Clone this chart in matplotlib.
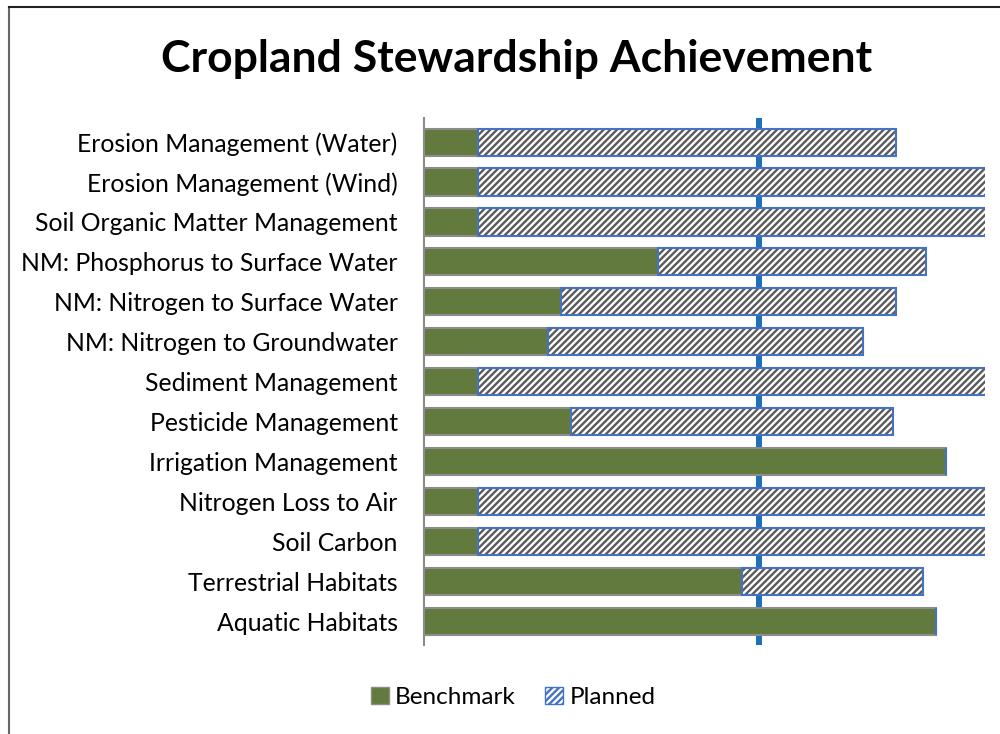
import numpy as np
import matplotlib.pyplot as plt
from matplotlib.patches import Patch
from matplotlib.lines import Line2D

categories = ['Erosion Management (Water)', 'Erosion Management (Wind)',
              'Soil Organic Matter Management', 'NM: Phosphorus to Surface Water',
              'NM: Nitrogen to Surface Water', 'NM: Nitrogen to Groundwater',
              'Sediment Management', 'Pesticide Management', 'Irrigation Management',
              'Nitrogen Loss to Air', 'Soil Carbon', 'Terrestrial Habitats',
              'Aquatic Habitats']
benchmark = [16, 16, 16, 70, 41, 37, 16, 44, 156, 16, 16, 95, 153]
planned = [125, 184, 184, 80, 100, 94, 184, 96, 0, 184, 184, 54, 0]
target = 100

plt.rcParams['font.family'] = ['Lato', 'DejaVu Sans']
plt.rcParams['hatch.linewidth'] = 1.7

fig = plt.figure(figsize=(10, 7.34), dpi=100)
ax = fig.add_axes([0.424, 0.121, 0.561, 0.718])

y = np.arange(len(categories))
green = '#627A3E'
ax.barh(y, benchmark, height=0.68, color=green, edgecolor='#8c8c8c', linewidth=1.5, zorder=2)
ax.barh(y, planned, left=benchmark, height=0.68, color='white', edgecolor='#5a5a5a',
        hatch='/////', linewidth=0, zorder=2)
ax.barh(y, planned, left=benchmark, height=0.68, fill=False, edgecolor='#4472C4',
        linewidth=1.5, zorder=3)
ax.axvline(target, color='#1F6FBA', linewidth=4.3, zorder=1)

ax.set_xlim(0, 167.5)
ax.set_ylim(len(categories) - 0.5 + 0.1, -0.6)
ax.set_yticks(y)
ax.set_yticklabels(categories, fontsize=17.8)
ax.tick_params(axis='y', length=0, pad=19)
ax.set_xticks([])
for s in ['top', 'right', 'bottom']:
    ax.spines[s].set_visible(False)
ax.spines['left'].set_color('#8c8c8c')
ax.spines['left'].set_linewidth(1.5)

fig.text(0.517, 0.919, 'Cropland Stewardship Achievement', ha='center', va='center',
         fontsize=32, fontweight='bold')

handles = [Patch(facecolor=green, edgecolor='#8c8c8c', label='Benchmark'),
           Patch(facecolor='white', edgecolor='#4472C4', hatch='/////', label='Planned')]
fig.legend(handles=handles, loc='center', bbox_to_anchor=(0.513, 0.05), ncol=2,
           frameon=False, fontsize=17.5, handlelength=0.75, handleheight=0.75,
           handletextpad=0.25, columnspacing=1.2)

fig.add_artist(Line2D([0.009, 0.009], [0, 0.991], color='#666666', linewidth=1.5))
fig.add_artist(Line2D([0.009, 1], [0.991, 0.991], color='#222222', linewidth=1.5))

fig.savefig('out.png', dpi=100)
